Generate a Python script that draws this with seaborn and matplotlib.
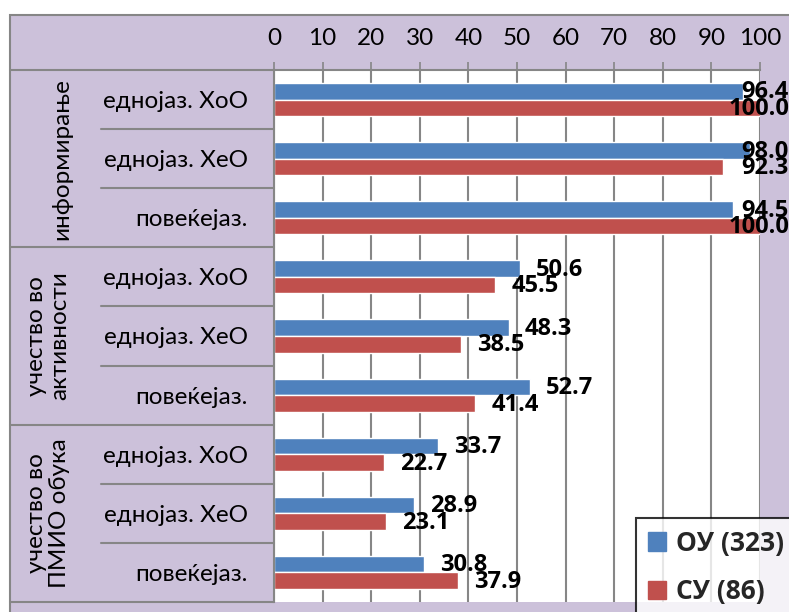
import matplotlib
matplotlib.use("Agg")
import matplotlib.pyplot as plt
from matplotlib.patches import Rectangle, Patch
from matplotlib.lines import Line2D
from matplotlib.transforms import blended_transform_factory, offset_copy
import seaborn as sns
import pandas as pd

groups = ["информирање", "учество во\nактивности", "учество во\nПМИО обука"]
subcats = ["еднојаз. ХоО", "еднојаз. ХеО", "повеќејаз."]
series = ["ОУ (323)", "СУ (86)"]
ou_values = [96.4, 98.0, 94.5, 50.6, 48.3, 52.7, 33.7, 28.9, 30.8]
su_values = [100.0, 92.3, 100.0, 45.5, 38.5, 41.4, 22.7, 23.1, 37.9]
x_ticks = [0, 10, 20, 30, 40, 50, 60, 70, 80, 90, 100]

BLUE = "#4F81BD"
RED = "#C0504D"
LAV = "#CCC1DA"
GRID = "#868686"
FONT = ["Lato", "Open Sans", "DejaVu Sans"]
BFONT = ["Open Sans", "DejaVu Sans"]
FS = 17.5

sns.set_theme(style="white")
plt.rcParams["font.family"] = FONT

keys = [f"{g}|{s}" for g in groups for s in subcats]
rows = []
for k, v1, v2 in zip(keys, ou_values, su_values):
    rows.append({"key": k, "series": series[0], "value": v1})
    rows.append({"key": k, "series": series[1], "value": v2})
df = pd.DataFrame(rows)

W, H = 789, 612
fig = plt.figure(figsize=(W / 100, H / 100), dpi=100, facecolor="white")

def fx(px):
    return px / W

def fy(py):
    return 1 - py / H

# lavender chart background
bg = Rectangle((fx(10), -0.1), 1.2, fy(15) + 0.1, transform=fig.transFigure,
               facecolor=LAV, edgecolor=GRID, linewidth=1.5, zorder=-10)
fig.add_artist(bg)

ax_l, ax_r, ax_t, ax_b = 274, 760, 70, 602
ax = fig.add_axes([fx(ax_l), fy(ax_b), fx(ax_r - ax_l), (ax_b - ax_t) / H])
ax.set_facecolor("white")

sns.barplot(data=df, y="key", x="value", hue="series", order=keys,
            hue_order=series, palette=[BLUE, RED], orient="h",
            width=0.56, dodge=True, ax=ax, legend=False, saturation=1)

ax.set_xlim(0, 100)
ax.set_xticks(x_ticks)
ax.set_xticklabels([str(t) for t in x_ticks])
ax.xaxis.tick_top()
ax.tick_params(axis="x", which="major", direction="out", length=6, width=1.2,
               color=GRID, pad=9, labelsize=FS, labelcolor="black",
               top=True, bottom=False)
ax.grid(axis="x", color=GRID, linewidth=1.5)
ax.set_axisbelow(True)
ax.set_xlabel("")
ax.set_ylabel("")
for s in ["right", "bottom"]:
    ax.spines[s].set_visible(False)
for s in ["top", "left"]:
    ax.spines[s].set_visible(True)
    ax.spines[s].set_color(GRID)
    ax.spines[s].set_linewidth(1.5)

ax.set_yticks(range(len(keys)))
ax.set_yticklabels([k.split("|")[1] for k in keys])
ax.tick_params(axis="y", length=0, pad=19, labelsize=FS, labelcolor="black")

# data labels
bar_h = 0.28
LFS = 17
for i, (v1, v2) in enumerate(zip(ou_values, su_values)):
    for v, dy in ((v1, -bar_h / 2), (v2, bar_h / 2)):
        if v > 85:
            tr = blended_transform_factory(fig.transFigure, ax.transData)
            ax.text(fx(789), i + dy + 0.02, f"{v:.1f}", transform=tr, ha="right",
                    va="center", fontsize=LFS, fontweight="bold", family=BFONT,
                    color="black", clip_on=False, zorder=5)
        else:
            tr = offset_copy(ax.transData, fig=fig, x=16 * 72 / 100, y=0, units="points")
            ax.text(v, i + dy + 0.02, f"{v:.1f}", transform=tr, ha="left",
                    va="center", fontsize=LFS, fontweight="bold", family=BFONT,
                    color="black", clip_on=False, zorder=5)

# left table lines and group labels
trY = blended_transform_factory(fig.transFigure, ax.transData)
for b in [-0.5, 2.5, 5.5, 8.5]:
    fig.add_artist(Line2D([fx(10), fx(ax_l)], [b, b], color=GRID, linewidth=1.5,
                          transform=trY))
for gi in range(len(groups)):
    for j in (0.5, 1.5):
        b = gi * 3 + j
        fig.add_artist(Line2D([fx(101), fx(ax_l)], [b, b], color=GRID,
                              linewidth=1.5, transform=trY))
    xc = 62 if "\n" not in groups[gi] else 48
    fig.text(fx(xc), gi * 3 + 1, groups[gi], transform=trY, rotation=90,
             ha="center", va="center", fontsize=FS, color="black",
             linespacing=1.1)

# legend
handles = [Patch(facecolor=BLUE, edgecolor=BLUE), Patch(facecolor=RED, edgecolor=RED)]
leg = fig.legend(handles, series, loc="upper left", bbox_to_anchor=(fx(636), fy(518)),
                 bbox_transform=fig.transFigure, frameon=True, fancybox=False,
                 prop={"family": BFONT, "weight": "bold", "size": 19},
                 handlelength=0.7, handleheight=0.7, handletextpad=0.35,
                 labelspacing=0.8, borderpad=0.45, borderaxespad=0)
leg.get_frame().set_edgecolor("black")
leg.get_frame().set_linewidth(1.5)
leg.get_frame().set_facecolor("white")

fig.savefig("out.png", dpi=100, facecolor="white")
